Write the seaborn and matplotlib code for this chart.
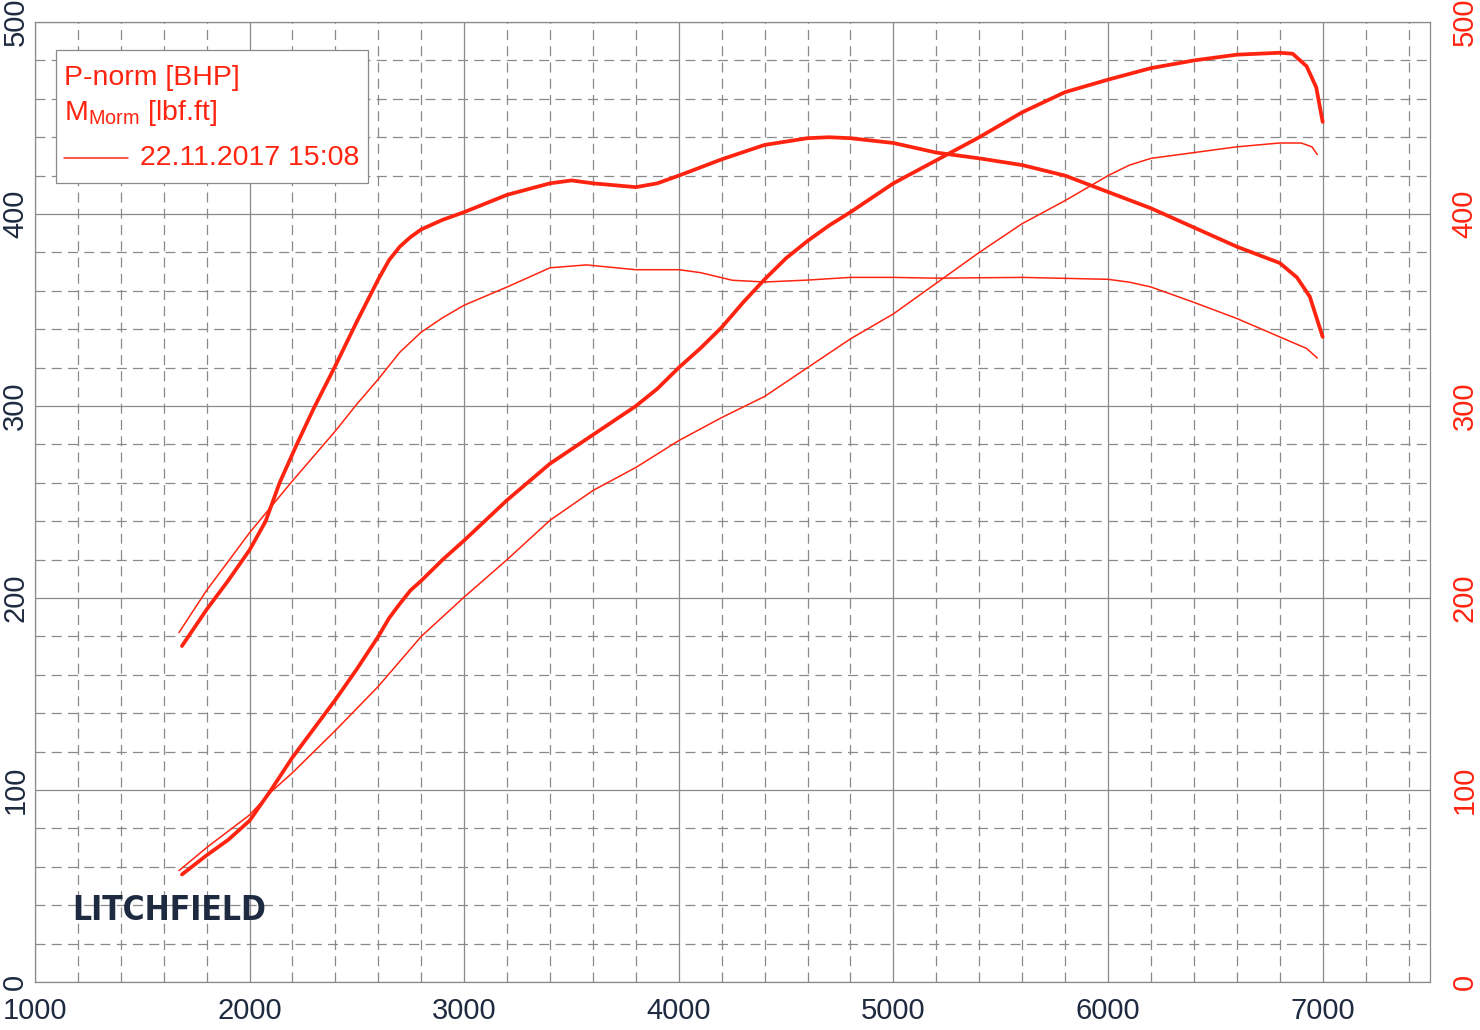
import matplotlib
matplotlib.use("Agg")
import matplotlib.pyplot as plt
from matplotlib.patches import Rectangle
from matplotlib.lines import Line2D
from matplotlib.ticker import MultipleLocator
import seaborn as sns

# run 1 (thick lines)
rpm_p1 = [1685, 1800, 1900, 2000, 2100, 2200, 2300, 2400, 2500, 2600, 2650, 2700, 2750, 2800, 2900,
          3000, 3200, 3400, 3600, 3800, 3900, 4000, 4100, 4200, 4300, 4400, 4500, 4600, 4700, 4800,
          5000, 5200, 5400, 5600, 5800, 6000, 6200, 6400, 6600, 6800, 6860, 6925, 6970, 7000]
power1 = [56, 66, 74, 84, 100, 117, 132, 147, 163, 180, 189.5, 197, 204, 209, 220,
          230, 251, 270, 285, 300, 309, 320, 330, 341, 354, 366, 377, 386, 394, 401,
          416, 428, 440, 453, 463.5, 470, 476, 480, 483, 484, 483.5, 477, 466, 448]

rpm_t1 = [1685, 1800, 1900, 2000, 2075, 2140, 2220, 2300, 2400, 2500, 2600, 2650, 2700, 2750, 2800,
          2900, 3000, 3200, 3400, 3500, 3600, 3800, 3900, 4000, 4200, 4400, 4600, 4700, 4800, 5000,
          5200, 5400, 5600, 5800, 6000, 6200, 6400, 6600, 6800, 6880, 6940, 7000]
torque1 = [175, 194, 209, 225, 240, 260, 280, 299, 321, 344, 366, 376, 383, 388, 392,
           397, 401, 410, 416, 417.5, 416, 414, 416, 420, 428.5, 436, 439.5, 440, 439.5, 437,
           432, 429, 425.5, 420, 411.5, 403, 393, 383, 374.5, 367, 357, 336]

# run 2 (thin lines)
rpm_p2 = [1671, 1800, 2000, 2100, 2200, 2400, 2600, 2800, 3000, 3200, 3400, 3600, 3800, 4000, 4200,
          4400, 4600, 4800, 5000, 5200, 5400, 5600, 5800, 6000, 6100, 6200, 6400, 6600, 6800, 6900,
          6950, 6975]
power2 = [58, 70, 87, 99, 109, 131, 154, 180, 200.5, 220, 240.5, 256, 268, 282, 294,
          305, 320, 335, 348, 364, 380, 395, 407, 420, 425.5, 429, 432, 435, 437, 437,
          435, 431]

rpm_t2 = [1671, 1800, 2000, 2200, 2400, 2500, 2600, 2700, 2800, 2900, 3000, 3200, 3400, 3570, 3800,
          4000, 4100, 4250, 4400, 4600, 4800, 5000, 5200, 5600, 6000, 6100, 6200, 6400, 6600, 6800,
          6925, 6975]
torque2 = [182, 204, 234, 261, 287, 301, 314, 328, 338.5, 346, 352.5, 362, 372, 373.5, 371,
           371, 369.5, 365.5, 364.6, 365.6, 367, 367, 366.6, 367, 366, 364.5, 362, 354, 345.6, 336,
           330, 325]

legend_lines = ["P-norm [BHP]", r"M$_{\mathregular{Morm}}$ [lbf.ft]", "22.11.2017 15:08"]
x_ticks = [1000, 2000, 3000, 4000, 5000, 6000, 7000]
y_ticks = [0, 100, 200, 300, 400, 500]

RED = "#ff2410"
NAVY = "#1e2a3f"

sns.set_style("white")
plt.rcParams["font.family"] = ["Liberation Sans", "DejaVu Sans"]

fig = plt.figure(figsize=(14.8, 10.3), dpi=100)
ax = fig.add_axes([0.0236, 0.0466, 0.9426, 0.932])

sns.lineplot(x=rpm_t1, y=torque1, ax=ax, color=RED, lw=2.7, zorder=4)
sns.lineplot(x=rpm_p1, y=power1, ax=ax, color=RED, lw=2.7, zorder=4)
sns.lineplot(x=rpm_t2, y=torque2, ax=ax, color=RED, lw=1.1, zorder=4)
sns.lineplot(x=rpm_p2, y=power2, ax=ax, color=RED, lw=1.1, zorder=4)

ax.set_xlim(1000, 7500)
ax.set_ylim(0, 500)
ax.set_xticks(x_ticks)
ax.set_yticks(y_ticks)
ax.xaxis.set_minor_locator(MultipleLocator(200))
ax.yaxis.set_minor_locator(MultipleLocator(20))
ax.grid(which="major", color="#8a8a8a", lw=0.9, ls="-")
ax.grid(which="minor", color="#8a8a8a", lw=0.9, ls=(0, (8, 5)))
ax.set_axisbelow(True)
for s in ax.spines.values():
    s.set_color("#8a8a8a")
    s.set_linewidth(0.9)

ax.tick_params(which="both", length=0)
ax.tick_params(axis="x", labelsize=21, labelcolor=NAVY, pad=11)
ax.tick_params(axis="y", labelsize=21, labelcolor=NAVY, pad=4, labelrotation=90)
for t in ax.get_yticklabels():
    t.set_va("center")
ax.set_xlabel("")
ax.set_ylabel("")

ax2 = ax.twinx()
ax2.set_ylim(0, 500)
ax2.set_yticks(y_ticks)
ax2.tick_params(length=0, labelsize=21, labelcolor=RED, pad=15, labelrotation=90)
for t in ax2.get_yticklabels():
    t.set_va("center")
for s in ax2.spines.values():
    s.set_visible(False)

# legend box
ax.add_patch(Rectangle((0.01505, 0.8323), 0.2237, 0.1385, transform=ax.transAxes,
                       facecolor="white", edgecolor="#8a8a8a", lw=0.9, zorder=6))
ax.text(0.0208, 0.9417, legend_lines[0], transform=ax.transAxes, color=RED,
        fontsize=20.5, va="center", ha="left", zorder=7)
ax.text(0.0208, 0.9052, legend_lines[1], transform=ax.transAxes, color=RED,
        fontsize=20.5, va="center", ha="left", zorder=7)
ax.add_line(Line2D([0.0208, 0.0667], [0.8583, 0.8583], transform=ax.transAxes,
                   color=RED, lw=1.1, zorder=7))
ax.text(0.0753, 0.8583, legend_lines[2], transform=ax.transAxes, color=RED,
        fontsize=20.5, va="center", ha="left", zorder=7)

# logo
ax.text(0.0265, 0.075, "LITCHFIELD", transform=ax.transAxes, color=NAVY,
        fontsize=24, fontweight="bold", fontstretch="condensed",
        family=["DejaVu Sans"], va="center", ha="left", zorder=3)

fig.savefig("out.png", dpi=100, facecolor="white")
